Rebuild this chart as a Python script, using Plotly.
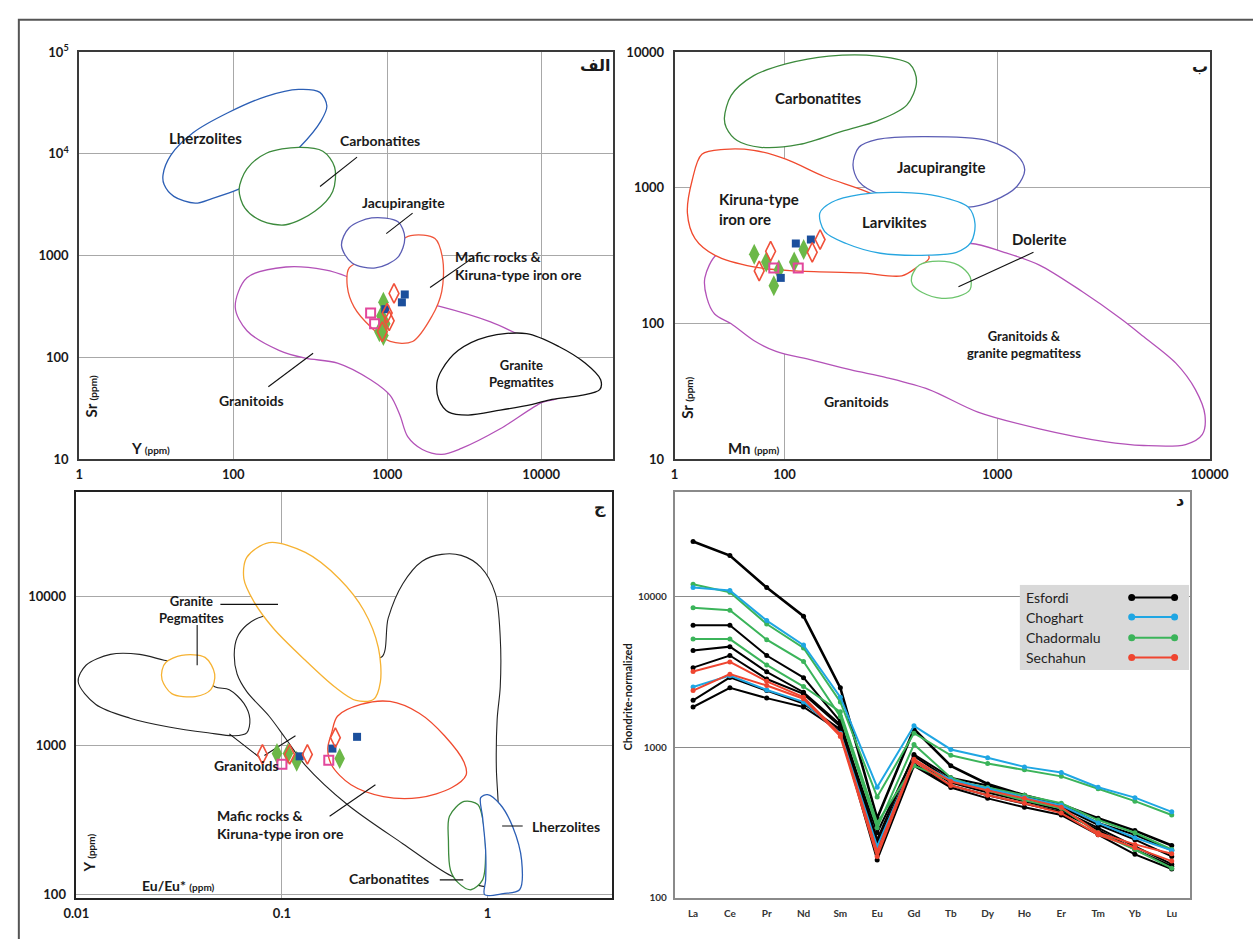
import numpy as np
import plotly.graph_objects as go

W, H = 1253, 939
FONT = "Lato"

# ====================== Panel الف : Sr vs Y ======================
A_xticks = [10, 100, 1000, 10000]
A_xticktext = ["1", "100", "1000", "10000"]
A_yticks = [10, 100, 1000, 10000, 100000]
A_yticktext = ["10", "100", "1000", "10<sup>4</sup>", "10<sup>5</sup>"]

A_sq_blue_Y = [1300, 1245, 971]
A_sq_blue_Sr = [416, 348, 298]
A_dia_red_Y = [1107, 1000, 1030, 929]
A_dia_red_Sr = [426, 273, 229, 179]
A_dia_green_Y = [944, 916, 971, 889, 944]
A_dia_green_Sr = [348, 255, 214, 179, 164]
A_sq_pink_Y = [780, 828]
A_sq_pink_Sr = [273, 214]

# field outlines as (log10 Y, log10 Sr)
A_granitoids = [(2.013, 2.494), (2.089, 2.783), (2.342, 2.889), (2.595, 2.860), (2.741, 2.793),
                (2.975, 2.619), (3.335, 2.504), (3.671, 2.349), (3.943, 2.166), (4.133, 2.070),
                (4.209, 1.848), (4.114, 1.607), (4.006, 1.559), (3.734, 1.299), (3.481, 1.106),
                (3.354, 1.048), (3.228, 1.096), (3.133, 1.222), (3.082, 1.434), (3.019, 1.627),
                (2.892, 1.781), (2.677, 1.945), (2.468, 1.993), (2.297, 2.070), (2.089, 2.263)]
A_mafic = [(2.753, 2.880), (2.741, 2.696), (2.785, 2.494), (2.892, 2.301), (3.019, 2.157),
           (3.165, 2.157), (3.291, 2.407), (3.354, 2.648), (3.361, 2.957), (3.310, 3.169),
           (3.152, 3.198), (3.006, 3.072), (2.848, 2.957)]
A_jacupirangite = [(2.703, 3.101), (2.753, 3.275), (2.899, 3.371), (3.070, 3.333), (3.114, 3.178),
                   (3.070, 2.986), (2.924, 2.880), (2.772, 2.928)]
A_lherzolites = [(1.544, 3.795), (1.595, 3.988), (1.741, 4.210), (1.962, 4.402), (2.215, 4.566),
                 (2.424, 4.634), (2.563, 4.605), (2.608, 4.470), (2.570, 4.325), (2.437, 4.075),
                 (2.247, 3.824), (2.032, 3.651), (1.867, 3.564), (1.753, 3.516), (1.614, 3.583),
                 (1.551, 3.699)]
A_carbonatites = [(2.038, 3.651), (2.089, 3.853), (2.215, 4.007), (2.424, 4.065), (2.582, 4.027),
                  (2.658, 3.872), (2.646, 3.631), (2.532, 3.439), (2.342, 3.304), (2.184, 3.342),
                  (2.076, 3.467)]
A_pegmatites = [(3.354, 1.877), (3.462, 2.070), (3.652, 2.205), (3.905, 2.234), (4.114, 2.108),
                (4.285, 1.945), (4.386, 1.781), (4.380, 1.684), (4.259, 1.627), (4.070, 1.588),
                (3.943, 1.540), (3.734, 1.482), (3.525, 1.434), (3.399, 1.463), (3.335, 1.588),
                (3.323, 1.752)]
# leader lines (Y, Sr)
A_lead_carb = ([637, 366], [9310, 4790])
A_lead_jacu = ([1462, 986], [2624, 1648])
A_lead_mafic = ([3656, 1897], [968, 487])
A_lead_gran = ([169, 330], [51.6, 110])

# ====================== Panel ب : Sr vs Mn ======================
B_xticks = [30.4, 100, 1000, 10000]
B_xticktext = ["1", "100", "1000", "10000"]
B_yticks = [10, 100, 1000, 10000]
B_yticktext = ["10", "100", "1000", "10000"]

B_sq_blue_Mn = [113, 133, 96]
B_sq_blue_Sr = [389, 416, 217]
B_dia_red_Mn = [86, 76, 135, 147]
B_dia_red_Sr = [341, 244, 335, 416]
B_dia_green_Mn = [72, 82, 94, 89, 111, 123]
B_dia_green_Sr = [324, 284, 248, 190, 284, 352]
B_sq_pink_Mn = [89, 116]
B_sq_pink_Sr = [257, 257]

# (log10 Mn, log10 Sr)
B_granitoids = [(1.680, 2.504), (1.625, 2.337), (1.634, 2.193), (1.671, 2.070), (1.749, 1.998),
                (1.855, 1.875), (1.960, 1.795), (2.130, 1.730), (2.313, 1.658), (2.483, 1.600),
                (2.680, 1.513), (2.910, 1.347), (3.199, 1.224), (3.506, 1.130), (3.689, 1.101),
                (3.887, 1.108), (3.965, 1.181), (3.978, 1.325), (3.933, 1.513), (3.841, 1.708),
                (3.689, 1.904), (3.584, 2.034), (3.400, 2.236), (3.199, 2.431), (3.033, 2.525),
                (2.877, 2.590), (2.726, 2.540), (2.497, 2.467), (2.038, 2.467), (1.763, 2.504)]
B_kiruna = [(1.717, 3.284), (1.611, 3.248), (1.566, 3.060), (1.543, 2.814), (1.579, 2.626),
            (1.671, 2.504), (1.855, 2.417), (2.052, 2.388), (2.359, 2.373), (2.552, 2.352),
            (2.625, 2.417), (2.680, 2.482), (2.634, 2.612), (2.497, 2.865), (2.405, 2.959),
            (2.189, 3.082), (2.006, 3.212), (1.855, 3.277)]
B_carbonatites = [(1.717, 3.516), (1.749, 3.682), (1.855, 3.827), (2.006, 3.913), (2.208, 3.971),
                  (2.437, 3.971), (2.589, 3.913), (2.621, 3.783), (2.575, 3.610), (2.437, 3.494),
                  (2.281, 3.422), (2.070, 3.320), (1.887, 3.299), (1.777, 3.349), (1.726, 3.443)]
B_jacupirangite = [(2.322, 3.169), (2.350, 3.299), (2.437, 3.357), (2.648, 3.378), (2.956, 3.349),
                   (3.093, 3.241), (3.130, 3.133), (3.093, 3.010), (2.979, 2.902), (2.864, 2.858),
                   (2.634, 2.923), (2.451, 2.952), (2.350, 3.046)]
B_larvikites = [(2.166, 2.814), (2.222, 2.894), (2.359, 2.952), (2.543, 2.966), (2.726, 2.937),
                (2.864, 2.858), (2.896, 2.735), (2.877, 2.598), (2.809, 2.525), (2.680, 2.504),
                (2.451, 2.518), (2.290, 2.590), (2.189, 2.677)]
B_dolerite = [(2.598, 2.345), (2.634, 2.431), (2.726, 2.460), (2.818, 2.431), (2.873, 2.345),
              (2.873, 2.251), (2.818, 2.200), (2.740, 2.186), (2.648, 2.229), (2.602, 2.287)]
B_lead_dol = ([1483, 658], [335, 187])

# ====================== Panel ج : Y vs Eu/Eu* ======================
C_xticks = [0.01, 0.1, 1]
C_xticktext = ["0.01", "0.1", "1"]
C_yticks = [100, 1000, 10000]
C_yticktext = ["100", "1000", "10000"]

C_dia_red_Eu = [0.0804, 0.109, 0.133, 0.182]
C_dia_red_Y = [873, 873, 873, 1130]
C_dia_green_Eu = [0.0946, 0.107, 0.118, 0.191]
C_dia_green_Y = [885, 885, 785, 820]
C_sq_blue_Eu = [0.122, 0.176, 0.232]
C_sq_blue_Y = [847, 955, 1145]
C_sq_pink_Eu = [0.100, 0.169]
C_sq_pink_Y = [750, 796]

# (log10 Eu/Eu*, log10 Y)
C_granitoid_big = [(-1.090, 3.868), (-1.171, 3.809), (-1.218, 3.724), (-1.232, 3.612), (-1.218, 3.480),
                   (-1.171, 3.362), (-1.062, 3.197), (-0.981, 3.046), (-0.886, 2.868), (-0.682, 2.605),
                   (-0.412, 2.342), (-0.175, 2.125), (-0.033, 2.059), (0.038, 2.059), (0.052, 2.342),
                   (0.052, 2.605), (0.043, 2.849), (0.047, 3.178), (0.062, 3.395), (0.062, 3.724),
                   (0.038, 4.020), (-0.033, 4.197), (-0.128, 4.276), (-0.223, 4.283), (-0.318, 4.237),
                   (-0.412, 4.086), (-0.483, 3.855), (-0.517, 3.592), (-0.744, 3.724), (-0.934, 3.855)]
C_granitoid_small = [(-1.991, 3.428), (-1.953, 3.539), (-1.834, 3.612), (-1.692, 3.612), (-1.573, 3.572),
                     (-1.431, 3.526), (-1.327, 3.395), (-1.256, 3.375), (-1.185, 3.283), (-1.156, 3.178),
                     (-1.171, 3.086), (-1.232, 3.066), (-1.360, 3.086), (-1.550, 3.125), (-1.739, 3.184),
                     (-1.905, 3.276)]
C_pegmatite_big = [(-1.062, 4.362), (-1.171, 4.263), (-1.185, 4.118), (-1.137, 3.967), (-1.043, 3.789),
                   (-0.886, 3.572), (-0.744, 3.395), (-0.640, 3.303), (-0.555, 3.309), (-0.521, 3.428),
                   (-0.531, 3.658), (-0.602, 3.908), (-0.720, 4.118), (-0.886, 4.296)]
C_pegmatite_small = [(-1.583, 3.507), (-1.564, 3.559), (-1.488, 3.605), (-1.374, 3.592), (-1.327, 3.480),
                     (-1.346, 3.375), (-1.422, 3.329), (-1.536, 3.349), (-1.583, 3.441)]
C_mafic = [(-0.758, 3.086), (-0.730, 3.197), (-0.616, 3.276), (-0.474, 3.296), (-0.332, 3.217),
           (-0.209, 3.066), (-0.114, 2.888), (-0.104, 2.803), (-0.175, 2.717), (-0.332, 2.651),
           (-0.507, 2.658), (-0.664, 2.737), (-0.758, 2.868), (-0.777, 2.980)]
C_carbonatites = [(-0.185, 2.526), (-0.114, 2.625), (-0.047, 2.605), (-0.019, 2.474), (-0.009, 2.296),
                  (-0.024, 2.099), (-0.081, 2.033), (-0.142, 2.079), (-0.180, 2.164), (-0.190, 2.362)]
C_lherzolites = [(-0.033, 2.651), (0.0, 2.671), (0.062, 2.605), (0.123, 2.454), (0.166, 2.230),
                 (0.156, 2.033), (0.076, 2.007), (-0.014, 2.0), (-0.009, 2.099), (-0.009, 2.296),
                 (-0.024, 2.520)]
C_lead_peg_h = ([0.0502, 0.0957], [8855, 8855])
C_lead_peg_v = ([0.0387, 0.0387], [6440, 3460])
C_lead_gran1 = ([0.0555, 0.0778], [1199, 834])
C_lead_gran2 = ([0.0822, 0.1164], [859, 1164])
C_lead_mafic = ([0.1706, 0.285], [336, 546])
C_lead_carb = ([0.586, 0.762], [125.6, 125.6])
C_lead_lherz = ([1.178, 1.483], [289, 289])

# ====================== Panel د : REE chondrite-normalized ======================
REE = ["La", "Ce", "Pr", "Nd", "Sm", "Eu", "Gd", "Tb", "Dy", "Ho", "Er", "Tm", "Yb", "Lu"]
esfordi = [
    [23300, 18800, 11500, 7430, 2480, 337, 1318, 752, 570, 479, 416, 337, 279, 222],
    [6460, 6460, 4070, 2900, 1480, 243, 896, 627, 556, 479, 411, 314, 262, 206],
    [4390, 4660, 3170, 2320, 1413, 270, 873, 600, 516, 457, 399, 305, 243, 188],
    [3380, 4070, 2840, 2260, 1371, 232, 809, 582, 500, 438, 382, 291, 219, 167],
    [2050, 2910, 2380, 1950, 1312, 209, 774, 556, 479, 424, 371, 282, 209, 162],
    [1850, 2480, 2120, 1850, 1273, 178, 752, 540, 457, 399, 354, 262, 194, 155],
]
chadormalu = [
    [12100, 10700, 6590, 4570, 2000, 467, 1240, 883, 778, 708, 640, 530, 438, 354],
    [8440, 8130, 5180, 3710, 1597, 291, 1042, 627, 516, 443, 393, 270, 209, 157],
    [5230, 5230, 3520, 2530, 1718, 314, 752, 600, 540, 479, 424, 328, 270, 209],
]
choghart = [
    [11500, 11000, 6940, 4770, 2150, 542, 1387, 966, 851, 740, 679, 542, 462, 372],
    [2510, 2990, 2400, 2000, 1237, 219, 809, 608, 531, 464, 411, 314, 250, 206],
]
sechahun = [
    [3190, 3690, 2740, 2150, 1217, 203, 832, 591, 516, 457, 399, 270, 226, 196],
    [2380, 3060, 2570, 2100, 1180, 188, 809, 556, 479, 424, 365, 262, 215, 175],
]
D_yticks = [100, 1000, 10000]
D_yticktext = ["100", "1000", "10000"]
legend_names = ["Esfordi", "Choghart", "Chadormalu", "Sechahun"]
legend_colors = ["#000000", "#1fa6e3", "#3bb45a", "#ef4530"]

# ---------------------------------------------------------------
fig = go.Figure()


def field(pts, color, xa, ya, width=1.3):
    lx = [p[0] for p in pts] + [pts[0][0]]
    ly = [p[1] for p in pts] + [pts[0][1]]
    fig.add_trace(go.Scatter(
        x=np.power(10.0, lx), y=np.power(10.0, ly), mode="lines",
        line=dict(color=color, width=width, shape="spline", smoothing=0.9),
        fill="toself", fillcolor="white", xaxis=xa, yaxis=ya,
        hoverinfo="skip", showlegend=False))


def leader(seg, xa, ya):
    fig.add_trace(go.Scatter(x=seg[0], y=seg[1], mode="lines",
                             line=dict(color="#111111", width=1.1),
                             xaxis=xa, yaxis=ya, hoverinfo="skip", showlegend=False))


def points(x, y, kind, xa, ya):
    style = {
        "green": dict(symbol="diamond-tall", size=15, color="#6cb848", line=dict(width=0)),
        "blue": dict(symbol="square", size=8, color="#1b4f9c", line=dict(width=0)),
        "pink": dict(symbol="square-open", size=9, color="#e2479c", line=dict(width=2, color="#e2479c")),
        "red": dict(symbol="diamond-tall-open", size=14, color="#f0503a", line=dict(width=1.6, color="#f0503a")),
    }[kind]
    fig.add_trace(go.Scatter(x=x, y=y, mode="markers", marker=style, xaxis=xa, yaxis=ya,
                             hoverinfo="skip", showlegend=False, cliponaxis=False))


# ---- panel A
field(A_granitoids, "#b352b8", "x", "y")
field(A_mafic, "#f0553a", "x", "y")
field(A_jacupirangite, "#5b5db4", "x", "y")
field(A_lherzolites, "#2c5fb5", "x", "y")
field(A_carbonatites, "#3c8a3c", "x", "y")
field(A_pegmatites, "#111111", "x", "y")
for seg in (A_lead_carb, A_lead_jacu, A_lead_mafic, A_lead_gran):
    leader(seg, "x", "y")
points(A_dia_green_Y, A_dia_green_Sr, "green", "x", "y")
points(A_sq_blue_Y, A_sq_blue_Sr, "blue", "x", "y")
points(A_sq_pink_Y, A_sq_pink_Sr, "pink", "x", "y")
points(A_dia_red_Y, A_dia_red_Sr, "red", "x", "y")

# ---- panel B
field(B_granitoids, "#b352b8", "x2", "y2")
field(B_kiruna, "#f04a2e", "x2", "y2")
field(B_carbonatites, "#3c8a3c", "x2", "y2")
field(B_jacupirangite, "#5b5db4", "x2", "y2")
field(B_larvikites, "#27a6e0", "x2", "y2")
field(B_dolerite, "#6cc46c", "x2", "y2")
leader(B_lead_dol, "x2", "y2")
points(B_dia_green_Mn, B_dia_green_Sr, "green", "x2", "y2")
points(B_sq_blue_Mn, B_sq_blue_Sr, "blue", "x2", "y2")
points(B_sq_pink_Mn, B_sq_pink_Sr, "pink", "x2", "y2")
points(B_dia_red_Mn, B_dia_red_Sr, "red", "x2", "y2")

# ---- panel C
field(C_granitoid_big, "#222222", "x3", "y3", 1.1)
field(C_granitoid_small, "#222222", "x3", "y3", 1.1)
field(C_pegmatite_big, "#f6b232", "x3", "y3")
field(C_pegmatite_small, "#f6b232", "x3", "y3")
field(C_mafic, "#f04a2e", "x3", "y3")
field(C_carbonatites, "#3c8a3c", "x3", "y3")
field(C_lherzolites, "#2c5fb5", "x3", "y3")
for seg in (C_lead_peg_h, C_lead_peg_v, C_lead_gran1, C_lead_gran2, C_lead_mafic, C_lead_carb, C_lead_lherz):
    leader(seg, "x3", "y3")
points(C_dia_green_Eu, C_dia_green_Y, "green", "x3", "y3")
points(C_sq_blue_Eu, C_sq_blue_Y, "blue", "x3", "y3")
points(C_sq_pink_Eu, C_sq_pink_Y, "pink", "x3", "y3")
points(C_dia_red_Eu, C_dia_red_Y, "red", "x3", "y3")

# ---- panel D
for group, color in ((esfordi, legend_colors[0]), (chadormalu, legend_colors[2]),
                     (choghart, legend_colors[1]), (sechahun, legend_colors[3])):
    for i, s in enumerate(group):
        w = 2.6 if (group is esfordi and i == 0) else 2.0
        fig.add_trace(go.Scatter(x=REE, y=s, mode="lines+markers",
                                 line=dict(color=color, width=w),
                                 marker=dict(color=color, size=5),
                                 xaxis="x4", yaxis="y4", hoverinfo="skip", showlegend=False))

# custom legend (overlay axes)
fig.add_trace(go.Scatter(x=[0, 1, 1, 0, 0], y=[0, 0, 1, 1, 0], mode="lines", fill="toself",
                         fillcolor="#d9d9d9", line=dict(width=0, color="#d9d9d9"),
                         xaxis="x5", yaxis="y5", hoverinfo="skip", showlegend=False))
leg_y = [0.851, 0.621, 0.379, 0.149]
for name, color, yy in zip(legend_names, legend_colors, leg_y):
    fig.add_trace(go.Scatter(x=[0.661, 0.914], y=[yy, yy], mode="lines+markers",
                             line=dict(color=color, width=2), marker=dict(color=color, size=7),
                             xaxis="x5", yaxis="y5", hoverinfo="skip", showlegend=False))

# ---------------- axes ----------------
def dom_x(a, b):
    return [a / W, b / W]


def dom_y(top, bottom):
    return [1 - bottom / H, 1 - top / H]


tick_font = dict(family=FONT, size=13, color="#1a1a1a", weight=700)
base = dict(showgrid=True, gridcolor="#a8a8a8", gridwidth=1, zeroline=False, showline=True,
            mirror=True, linecolor="#3a3a3a", linewidth=2, ticks="", tickfont=tick_font,
            fixedrange=True)

fig.update_layout(
    xaxis=dict(base, type="log", domain=dom_x(68, 616), range=[1, 4.468], anchor="y",
               tickvals=A_xticks, ticktext=A_xticktext, ticklabelstandoff=2),
    yaxis=dict(base, type="log", domain=dom_y(43, 458), range=[1, 5], anchor="x",
               tickvals=A_yticks, ticktext=A_yticktext, ticklabelstandoff=6),
    xaxis2=dict(base, type="log", domain=dom_x(679, 1228), range=[1.483, 4.0], anchor="y2",
                tickvals=B_xticks, ticktext=B_xticktext, ticklabelstandoff=2),
    yaxis2=dict(base, type="log", domain=dom_y(43, 458), range=[1, 4], anchor="x2",
                tickvals=B_yticks, ticktext=B_yticktext, ticklabelstandoff=6),
    xaxis3=dict(base, type="log", domain=dom_x(65, 615), range=[-2, 0.607], anchor="y3",
                tickvals=C_xticks, ticktext=C_xticktext, ticklabelstandoff=3, linecolor="#222222",
                linewidth=1.6),
    yaxis3=dict(base, type="log", domain=dom_y(491, 905), range=[1.98, 4.704], anchor="x3",
                tickvals=C_yticks, ticktext=C_yticktext, ticklabelstandoff=6, linecolor="#222222",
                linewidth=1.6),
    xaxis4=dict(base, type="category", domain=dom_x(679, 1208), range=[-0.5, 13.5], anchor="y4",
                showgrid=False, linecolor="#8a8a8a", linewidth=1.5, ticklabelstandoff=6,
                tickfont=dict(family=FONT, size=10, color="#333333", weight=700)),
    yaxis4=dict(base, type="log", domain=dom_y(491, 905), range=[2, 4.699], anchor="x4",
                tickvals=D_yticks, ticktext=D_yticktext, gridcolor="#8a8a8a",
                linecolor="#8a8a8a", linewidth=1.5, ticklabelstandoff=4,
                tickfont=dict(family=FONT, size=10, color="#333333", weight=700)),
    xaxis5=dict(domain=dom_x(1033, 1207), range=[0, 1], visible=False, anchor="y5", fixedrange=True),
    yaxis5=dict(domain=dom_y(586, 673), range=[0, 1], visible=False, anchor="x5", fixedrange=True),
)

# ---------------- text labels ----------------
def label(text, x, y, size=14, xanchor="center", align="center", angle=0, family=FONT, weight=700,
          color="#1a1a1a"):
    fig.add_annotation(text=text, x=x / W, y=1 - y / H, xref="paper", yref="paper", showarrow=False,
                       font=dict(family=family, size=size, color=color, weight=weight),
                       xanchor=xanchor, yanchor="middle", align=align, textangle=angle)


small = "<span style='font-size:10px'>(ppm)</span>"
# panel A
label("Lherzolites", 198, 130, 15)
label("Carbonatites", 377, 133, 14)
label("Jacupirangite", 401, 196, 14)
label("Mafic rocks &amp;<br>Kiruna-type iron ore", 452, 261, 14, xanchor="left", align="left")
label("Granite<br>Pegmatites", 522, 371, 13)
label("Granitoids", 245, 398, 14)
label("الف", 598, 57, 16, family="DejaVu Sans")
label("Sr " + small, 80, 394, 15, angle=-90)
label("Y " + small, 141, 447, 15)
# panel B
label("Carbonatites", 826, 90, 15)
label("Jacupirangite", 953, 160, 15)
label("Kiruna-type<br>iron ore", 722, 203, 15, xanchor="left", align="left")
label("Larvikites", 905, 216, 15)
label("Dolerite", 1053, 233, 15)
label("Granitoids &amp;<br>granite pegmatitess", 1038, 341, 13)
label("Granitoids", 866, 399, 14)
label("ب", 1218, 58, 16, family="DejaVu Sans")
label("Sr " + small, 692, 395, 15, angle=-90)
label("Mn " + small, 760, 447, 15)
# panel C
label("Granite<br>Pegmatites", 183, 611, 13)
label("Granitoids", 240, 770, 14)
label("Mafic rocks &amp;<br>Kiruna-type iron ore", 207, 830, 14, xanchor="left", align="left")
label("Carbonatites", 386, 885, 14)
label("Lherzolites", 567, 832, 14)
label("ج", 602, 507, 16, family="DejaVu Sans")
label("Y " + small, 78, 860, 15, angle=-90)
label("Eu/Eu* " + small, 170, 893, 14)
# panel D
label("د", 1198, 500, 16, family="DejaVu Sans")
label("Chondrite-normalized", 631, 700, 11, angle=-90)
# legend texts
leg_text_y = [599, 619, 640, 660]
for name, yy in zip(legend_names, leg_text_y):
    label(name, 1038, yy, 14, xanchor="left", align="left", weight=400, color="#222222")

# outer frame
fig.add_shape(type="rect", xref="paper", yref="paper", x0=6 / W, x1=1.05, y0=-0.05, y1=1 - 10 / H,
              line=dict(color="#555555", width=2), layer="above")

fig.update_layout(autosize=True, margin=dict(l=0, r=0, t=0, b=0),
                  paper_bgcolor="white", plot_bgcolor="rgba(0,0,0,0)", showlegend=False,
                  font=dict(family=FONT))

fig.write_html("out.html", default_width="100vw", default_height="100vh",
               config={"displayModeBar": False, "responsive": True},
               post_script="document.body.style.margin='0px';document.body.style.overflow='hidden';")
